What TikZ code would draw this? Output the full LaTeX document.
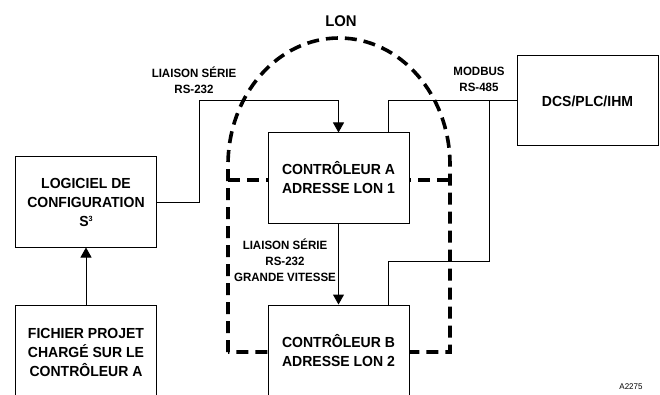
\documentclass[tikz,border=0pt]{standalone}
\usepackage{fontspec}
\setmainfont{Liberation Sans}[FakeStretch=0.96]
\usepackage{tikz}
\usetikzlibrary{arrows.meta}

\begin{document}
\begin{tikzpicture}[x=1pt,y=1pt,
  block/.style={draw,fill=white,line width=1pt,minimum width=141pt,
                minimum height=90pt,align=center,inner sep=0pt,
                font=\fontsize{14.6}{19}\selectfont\bfseries},
  lbl/.style={align=center,inner sep=0pt,font=\fontsize{12}{16}\selectfont\bfseries},
  link/.style={line width=1pt},
  arr/.style={link,-{Triangle[length=10pt,width=11pt]}},
  lon/.style={line width=3.6pt,dash pattern=on 12pt off 7pt}]
  \clip (0,0) rectangle (660,394);
  % LON network
  \draw[lon] (228,42) -- (228,229) arc[start angle=180,end angle=0,x radius=111pt,y radius=127pt]
    -- (450,42) -- cycle;
  \draw[lon] (228,214) -- (450,214);
  \node[font=\fontsize{15.5}{18}\selectfont\bfseries] (lonlbl) at (341,373) {LON};
  % blocks
  \node[block] (logiciel) at (86,192)    {LOGICIEL DE\\CONFIGURATION\\S\raisebox{4.5pt}{\fontsize{7.5}{8}\selectfont 3}};
  \node[block,minimum height=94pt] (fichier) at (86,42) {FICHIER PROJET\\CHARG\'E SUR LE\\CONTR\^OLEUR A};
  \node[block] (ctrlA) at (338.5,216)    {CONTR\^OLEUR A\\ADRESSE LON 1};
  \node[block,minimum height=92pt] (ctrlB) at (338.5,43) {CONTR\^OLEUR B\\ADRESSE LON 2};
  \node[block] (dcs) at (587.5,293)      {DCS/PLC/IHM};
  \coordinate (bendL) at (199,293);
  \coordinate (tap) at (489,293);
  % links
  \draw[arr] (fichier) -- (logiciel);
  \draw[arr] (logiciel.east) -| (bendL) -| (ctrlA.north);
  \draw[arr] (ctrlA) -- (ctrlB);
  \draw[link] ([xshift=49.5pt]ctrlA.north) |- (dcs.west);
  \draw[link] ([xshift=49.5pt]ctrlB.north) -- ++(0,43) -| (tap);
  % labels
  \node[lbl] (rs232) at (194,313.5) {LIAISON S\'ERIE\\RS-232};
  \node[lbl] (modbus) at (479,315)  {MODBUS\\RS-485};
  \node[lbl] (rshs) at (285,134)    {LIAISON S\'ERIE\\RS-232\\GRANDE VITESSE};
  \node[font=\fontsize{8.3}{10}\selectfont] (ref) at (631,7) {A2275};
\end{tikzpicture}
\end{document}
